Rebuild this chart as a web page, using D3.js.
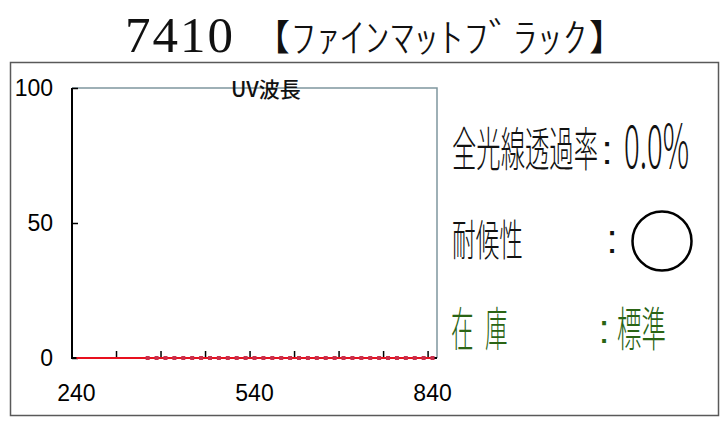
<!DOCTYPE html>
<html><head><meta charset="utf-8">
<script src="https://cdn.jsdelivr.net/npm/d3@7"></script>
<style>body{margin:0;background:#fff}svg{display:block}</style>
</head><body>
<svg id="c" width="725" height="426"></svg>
<script>
const titleCode = "7410";
const titleName = "ﾌｧｲﾝﾏｯﾄﾌﾞﾗｯｸ";
const chartLabel = "UV波長";
const wavelengths = [240,255,270,285,300,315,330,345,360,375,390,405,420,435,450,465,480,495,510,525,540,555,570,585,600,615,630,645,660,675,690,705,720,735,750,765,780,795,810,825,840];
const transmittance = [0,0,0,0,0,0,0,0,0,0,0,0,0,0,0,0,0,0,0,0,0,0,0,0,0,0,0,0,0,0,0,0,0,0,0,0,0,0,0,0,0];
const markerWavelengths = [360,375,390,405,420,435,450,465,480,495,510,525,540,555,570,585,600,615,630,645,660,675,690,705,720,735,750,765,780,795,810,825,840];
const markerValues = [0,0,0,0,0,0,0,0,0,0,0,0,0,0,0,0,0,0,0,0,0,0,0,0,0,0,0,0,0,0,0,0,0];
const yTicks = [0,50,100];
const xTickMarks = [240,315,390,465,540,615,690,765,840];
const xTickLabels = [240,540,840];
const infoLabels = ["全光線透過率","耐候性","在","庫"];
const infoValues = ["0.0%","標準"];

const svg = d3.select("#c");
const L = 72, R = 437, T = 88, B = 358;
const x = d3.scaleBand().domain(wavelengths).range([L, R]).padding(0);
const y = d3.scaleLinear().domain([0, 100]).range([B, T]);
const cx = d => x(d) + x.bandwidth() / 2;

// outer frame
svg.append("rect").attr("x", 10.5).attr("y", 62.5).attr("width", 708).attr("height", 353)
  .attr("fill", "none").attr("stroke", "#595959").attr("stroke-width", 1.5);

// title
svg.append("text").attr("x", 125).attr("y", 52).attr("font-family", "Liberation Serif")
  .attr("font-size", 51).attr("fill", "#111").attr("letter-spacing", 2).text(titleCode);
svg.append("text").attr("x", 254).attr("y", 51).attr("font-family", "Noto Sans CJK JP")
  .attr("font-size", 36).attr("fill", "#111").text("【");
svg.append("text").attr("x", 291).attr("y", 52).attr("font-family", "Noto Sans CJK JP")
  .attr("font-size", 40).attr("font-weight", 300).attr("fill", "#111")
  .attr("textLength", 296).attr("lengthAdjust", "spacingAndGlyphs").text(titleName);
svg.append("text").attr("x", 589).attr("y", 51).attr("font-family", "Noto Sans CJK JP")
  .attr("font-size", 36).attr("fill", "#111").text("】");

// plot border (top/right)
svg.append("path").attr("d", `M${L},${T}H${R}V${B}`).attr("fill", "none")
  .attr("stroke", "#7f969e").attr("stroke-width", 1.5);

// y axis
const ya = svg.append("g").attr("transform", `translate(${L},0)`)
  .call(d3.axisLeft(y).tickValues(yTicks).tickSizeInner(-6).tickSizeOuter(0).tickPadding(19));
ya.select(".domain").remove();
ya.selectAll(".tick line").attr("stroke", "#000").attr("stroke-width", 1.5);
ya.selectAll("text").attr("font-family", "Liberation Sans").attr("font-size", 23).attr("fill", "#000");

// x tick marks at category boundaries
const xm = svg.append("g").attr("transform", `translate(${-x.bandwidth() / 2},${B})`)
  .call(d3.axisBottom(x).tickValues(xTickMarks).tickSizeInner(-7).tickSizeOuter(0).tickFormat(""));
xm.select(".domain").remove();
xm.selectAll(".tick line").attr("stroke", "#000").attr("stroke-width", 1.5);
// x labels
const xl = svg.append("g").attr("transform", `translate(0,${B})`)
  .call(d3.axisBottom(x).tickValues(xTickLabels).tickSize(0).tickPadding(27));
xl.select(".domain").remove();
xl.selectAll("text").attr("font-family", "Liberation Sans").attr("font-size", 23).attr("fill", "#000");

// axes lines
svg.append("path").attr("d", `M${L},${T}V${B}H${R}`).attr("fill", "none")
  .attr("stroke", "#000").attr("stroke-width", 2);

// chart label
svg.append("text").attr("x", 231).attr("y", 97).attr("font-family", "Noto Sans CJK JP")
  .attr("font-size", 21).attr("font-weight", 500).attr("fill", "#111").text(chartLabel);

// data line
svg.append("path").datum(wavelengths.map((w, i) => [w, transmittance[i]]))
  .attr("d", d3.line().x(d => cx(d[0])).y(d => y(d[1])))
  .attr("fill", "none").attr("stroke", "#e8101e").attr("stroke-width", 2);
svg.append("g").selectAll("rect").data(markerWavelengths.map((w, i) => [w, markerValues[i]]))
  .join("rect").attr("x", d => cx(d[0]) - 2).attr("y", d => y(d[1]) - 2)
  .attr("width", 4).attr("height", 4).attr("fill", "#c8304c");

// info panel (condensed text via horizontal scale)
const info = svg.append("g").attr("font-family", "Noto Sans CJK JP").attr("font-weight", 300);
function put(txt, tx, ty, size, sx, color) {
  return info.append("text").attr("transform", `translate(${tx},${ty}) scale(${sx},1)`)
    .attr("font-size", size).attr("fill", color).text(txt);
}
function colon(tx, ty, color) {
  return info.append("text").attr("x", tx).attr("y", ty).attr("text-anchor", "middle")
    .attr("font-family", "Liberation Sans").attr("font-weight", 400)
    .attr("font-size", 40).attr("fill", color).text(":");
}
put(infoLabels[0], 452, 166, 47, 0.518, "#111");
colon(607, 164, "#111");
put(infoValues[0], 624, 168, 60, 0.49, "#111");

put(infoLabels[1], 452, 256, 43, 0.55, "#111");
colon(612, 253, "#111");
svg.append("circle").attr("cx", 662).attr("cy", 241).attr("r", 29.5)
  .attr("fill", "none").attr("stroke", "#000").attr("stroke-width", 2.5);

put(infoLabels[2], 451, 346, 47, 0.48, "#2a6414");
put(infoLabels[3], 485, 346, 47, 0.48, "#2a6414");
colon(604, 343, "#2a6414");
put(infoValues[1], 617, 346, 47, 0.52, "#2a6414");
</script>
</body></html>
